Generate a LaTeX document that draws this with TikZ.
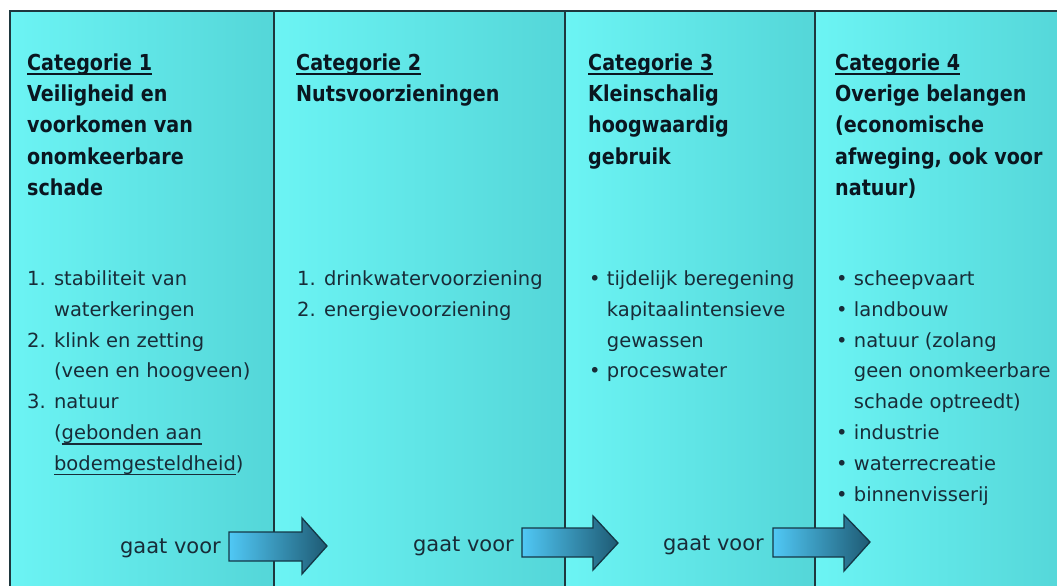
\documentclass[tikz,border=0pt]{standalone}
\usepackage{fontspec}
\setmainfont{DejaVu Sans}
\newfontfamily\headfont{DejaVu Sans}[FakeStretch=0.87]
\definecolor{bgL}{RGB}{108,244,244}
\definecolor{bgR}{RGB}{84,214,216}
\definecolor{linec}{RGB}{30,55,62}
\definecolor{headc}{RGB}{10,22,32}
\definecolor{listc}{RGB}{24,44,56}
\definecolor{arrL}{RGB}{80,200,245}
\definecolor{arrR}{RGB}{30,90,115}
\definecolor{arrD}{RGB}{20,55,70}
\newcommand\ulx[1]{\setbox0\hbox{#1}\rlap{\rule[-4.8pt]{\wd0}{1.7pt}}\box0}
\begin{document}
\begin{tikzpicture}[x=1pt,y=-1pt,
  col/.style={left color=bgL,right color=bgR},
  sep/.style={draw=linec,line width=1.5pt},
  head/.style={anchor=north west,inner sep=0pt,align=left,text=headc,font=\headfont\bfseries\fontsize{22}{31.3}\selectfont},
  list/.style={anchor=north west,inner sep=0pt,align=left,text=listc,font=\fontsize{19.5}{30.9}\selectfont},
  gv/.style={anchor=base east,inner sep=0pt,text=listc,font=\fontsize{21}{24}\selectfont},
  arr/.style={left color=arrL,right color=arrR,draw=arrD,line width=1.3pt,line join=miter}]
\useasboundingbox (0,0) rectangle (1057,586);
\clip (0,0) rectangle (1057,586);
\fill[white] (0,0) rectangle (1057,586);
% columns
\shade[col] (10,11) rectangle (274,600);
\shade[col] (274,11) rectangle (565,600);
\shade[col] (565,11) rectangle (815,600);
\shade[col] (815,11) rectangle (1070,600);
% frame and separators
\draw[sep] (10,600) -- (10,11) -- (1070,11);
\draw[sep] (274,11) -- (274,600);
\draw[sep] (565,11) -- (565,600);
\draw[sep] (815,11) -- (815,600);
% headings
\node[head] (h1) at (27,48.1) {\strut\ulx{Categorie 1}\\Veiligheid en\\voorkomen van\\onomkeerbare\\schade};
\node[head] (h2) at (296,48.1) {\strut\ulx{Categorie 2}\\Nutsvoorzieningen};
\node[head] (h3) at (588,48.1) {\strut\ulx{Categorie 3}\\Kleinschalig\\hoogwaardig\\gebruik};
\node[head] (h4) at (835,48.1) {\strut\ulx{Categorie 4}\\Overige belangen\\(economische\\afweging, ook voor\\natuur)};
% lists
\node[list] (l1) at (27,263.4) {\strut1. stabiliteit van\\\hphantom{1. }waterkeringen\\2. klink en zetting\\\hphantom{2. }(veen en hoogveen)\\3. natuur\\\hphantom{3. }(\ulx{gebonden aan}\\\hphantom{3. }\ulx{bodemgesteldheid})};
\node[list] (l2) at (297,263.4) {\strut1. drinkwatervoorziening\\2. energievoorziening};
\node[list] (l3) at (589,263.4) {\strut• tijdelijk beregening\\\hphantom{• }kapitaalintensieve\\\hphantom{• }gewassen\\• proceswater};
\node[list] (l4) at (836,263.4) {\strut• scheepvaart\\• landbouw\\• natuur (zolang\\\hphantom{• }geen onomkeerbare\\\hphantom{• }schade optreedt)\\• industrie\\• waterrecreatie\\• binnenvisserij};
% arrows
\node[gv] (g1) at (221,553) {gaat voor};
\node[gv] (g2) at (514,551) {gaat voor};
\node[gv] (g3) at (764,550) {gaat voor};
\path[arr] (229,532) -- (302,532) -- (302,518) -- (327,546) -- (302,574) -- (302,561) -- (229,561) -- cycle;
\path[arr] (522,528) -- (593,528) -- (593,516) -- (618,543) -- (593,570) -- (593,557) -- (522,557) -- cycle;
\path[arr] (773,528) -- (844,528) -- (844,515) -- (870,542) -- (844,571) -- (844,557) -- (773,557) -- cycle;
\end{tikzpicture}
\end{document}
